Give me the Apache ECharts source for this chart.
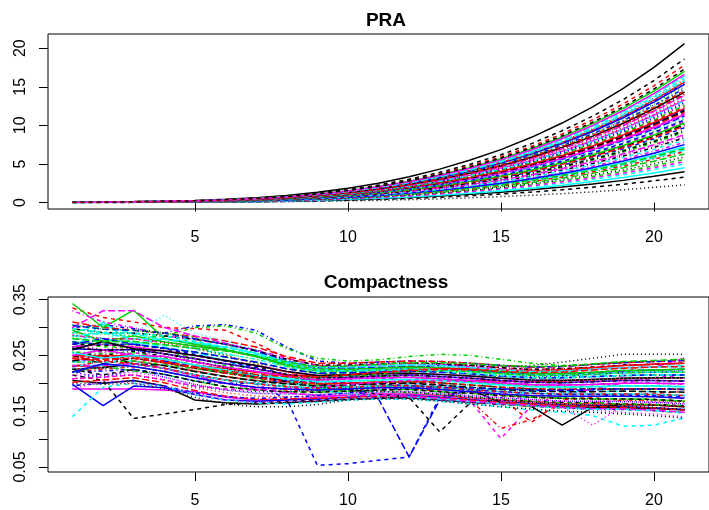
<!DOCTYPE html>
<html>
<head>
<meta charset="utf-8">
<script src="https://cdn.jsdelivr.net/npm/echarts@6/dist/echarts.min.js"></script>
<style>html,body{margin:0;padding:0;background:#fff;}#c{width:709px;height:510px;}</style>
</head>
<body>
<div id="c"></div>
<script>
// ---- categories / ticks ----
const steps = [1,2,3,4,5,6,7,8,9,10,11,12,13,14,15,16,17,18,19,20,21];
const xTicks = [5,10,15,20];
const praTicks = [0,5,10,15,20];
const compTicks = [0.05,0.10,0.15,0.20,0.25,0.30,0.35];
const compLabels = [0.05,0.15,0.25,0.35];
const titles = ['PRA','Compactness'];

// ---- PRA curves ----
const p00=[.06,.08,.12,.19,.27,.41,.62,.91,1.32,1.85,2.51,3.34,4.33,5.50,6.86,8.45,10.30,12.40,14.79,17.51,20.6];
const p01=[.05,.07,.11,.16,.23,.36,.53,.78,1.14,1.60,2.17,2.88,3.74,4.75,5.93,7.30,8.90,10.72,12.78,15.13,17.8];
const p02=[.04,.06,.09,.13,.19,.29,.44,.64,.93,1.31,1.78,2.37,3.07,3.90,4.86,5.99,7.30,8.79,10.48,12.41,14.6];
const p03=[.04,.05,.07,.11,.16,.24,.36,.53,.77,1.09,1.48,1.96,2.54,3.23,4.03,4.96,6.05,7.28,8.69,10.29,12.1];
const p04=[.05,.07,.10,.15,.21,.33,.49,.72,1.05,1.48,2.00,2.66,3.44,4.38,5.46,6.72,8.20,9.87,11.78,13.94,16.4];
const p05=[.04,.05,.08,.12,.17,.27,.40,.59,.85,1.20,1.62,2.15,2.79,3.55,4.43,5.45,6.65,8.01,9.55,11.31,13.3];
const p06=[.06,.07,.11,.17,.24,.37,.56,.82,1.19,1.67,2.27,3.01,3.91,4.97,6.19,7.63,9.30,11.20,13.35,15.81,18.6];
const p07=[.05,.06,.10,.14,.21,.32,.48,.70,1.02,1.43,1.94,2.58,3.34,4.25,5.29,6.52,7.95,9.57,11.42,13.52,15.9];
const p08=[.03,.04,.05,.08,.12,.18,.27,.40,.58,.82,1.11,1.47,1.91,2.43,3.03,3.73,4.55,5.48,6.53,7.74,9.1];
const p09=[.03,.04,.07,.10,.15,.22,.34,.49,.72,1.01,1.37,1.81,2.35,2.99,3.73,4.59,5.60,6.74,8.04,9.52,11.2];
const p10=[.02,.03,.04,.06,.09,.14,.22,.32,.46,.65,.88,1.17,1.51,1.92,2.40,2.95,3.60,4.33,5.17,6.12,7.2];
const p11=[.03,.04,.06,.09,.14,.21,.32,.46,.67,.95,1.28,1.70,2.21,2.80,3.50,4.31,5.25,6.32,7.54,8.93,10.5];
const p12=[.01,.01,.01,.02,.03,.05,.07,.10,.15,.21,.28,.37,.48,.61,.77,.94,1.15,1.38,1.65,1.96,2.3];
const p13=[.04,.06,.08,.13,.18,.28,.42,.62,.90,1.27,1.72,2.28,2.96,3.76,4.70,5.78,7.05,8.49,10.12,11.99,14.1];
const p14=[.02,.03,.04,.06,.08,.13,.19,.28,.40,.57,.77,1.02,1.32,1.68,2.10,2.58,3.15,3.79,4.52,5.36,6.3];
const p15=[.05,.06,.09,.14,.20,.31,.46,.67,.98,1.38,1.87,2.48,3.21,4.09,5.09,6.27,7.65,9.21,10.99,13.01,15.3];
const p16=[.02,.02,.03,.05,.07,.10,.15,.22,.32,.45,.61,.81,1.05,1.34,1.67,2.05,2.50,3.01,3.59,4.25,5.0];
const p17=[.04,.05,.08,.11,.17,.25,.38,.56,.81,1.14,1.55,2.06,2.67,3.39,4.23,5.21,6.35,7.65,9.12,10.80,12.7];
const p18=[.03,.03,.05,.08,.11,.17,.25,.37,.54,.76,1.02,1.36,1.76,2.24,2.80,3.44,4.20,5.06,6.03,7.14,8.4];
const p19=[.04,.05,.07,.11,.15,.23,.35,.51,.75,1.05,1.43,1.90,2.46,3.12,3.90,4.80,5.85,7.04,8.40,9.95,11.7];
const p20=[.05,.07,.10,.15,.22,.34,.51,.75,1.09,1.53,2.07,2.75,3.57,4.54,5.66,6.97,8.50,10.23,12.21,14.45,17.0];
const p21=[.03,.04,.06,.09,.13,.19,.29,.43,.62,.87,1.18,1.57,2.04,2.59,3.23,3.98,4.85,5.84,6.96,8.25,9.7];
const p22=[.04,.05,.08,.12,.18,.27,.41,.60,.88,1.23,1.67,2.22,2.88,3.66,4.56,5.62,6.85,8.25,9.84,11.65,13.7];
const p23=[.02,.03,.05,.07,.10,.16,.23,.34,.50,.70,.95,1.26,1.64,2.08,2.60,3.20,3.90,4.70,5.60,6.63,7.8];
const p24=[.03,.04,.06,.09,.13,.20,.30,.44,.65,.91,1.23,1.64,2.12,2.70,3.36,4.14,5.05,6.08,7.25,8.59,10.1];
const p25=[.05,.06,.09,.14,.20,.31,.47,.69,1.00,1.40,1.90,2.53,3.28,4.17,5.19,6.40,7.80,9.39,11.20,13.26,15.6];
const p26=[.02,.02,.03,.05,.07,.11,.17,.25,.36,.50,.68,.91,1.18,1.50,1.86,2.30,2.80,3.37,4.02,4.76,5.6];
const p27=[.04,.05,.08,.12,.17,.26,.39,.57,.83,1.17,1.59,2.11,2.73,3.47,4.33,5.33,6.50,7.83,9.33,11.05,13.0];
const p28=[.05,.06,.10,.14,.21,.32,.48,.71,1.03,1.45,1.96,2.61,3.38,4.30,5.36,6.60,8.05,9.69,11.56,13.69,16.1];
const p29=[.03,.04,.05,.08,.11,.18,.26,.39,.56,.79,1.07,1.43,1.85,2.35,2.93,3.61,4.40,5.30,6.32,7.48,8.8];
const p30=[.01,.02,.02,.04,.05,.08,.12,.18,.26,.36,.49,.65,.84,1.07,1.33,1.64,2.00,2.41,2.87,3.40,4.0];
const p31=[.04,.05,.07,.11,.16,.25,.37,.55,.79,1.12,1.51,2.01,2.60,3.31,4.13,5.08,6.20,7.46,8.90,10.54,12.4];
const p32=[.03,.04,.06,.10,.14,.22,.32,.48,.69,.97,1.32,1.75,2.27,2.88,3.60,4.43,5.40,6.50,7.75,9.18,10.8];
const p33=[.04,.06,.09,.13,.19,.30,.44,.65,.95,1.33,1.81,2.40,3.11,3.95,4.93,6.07,7.40,8.91,10.63,12.58,14.8];
const p34=[.02,.03,.04,.06,.09,.14,.20,.30,.44,.61,.83,1.10,1.43,1.82,2.26,2.79,3.40,4.09,4.88,5.78,6.8];
const p35=[.03,.05,.07,.10,.15,.23,.34,.50,.73,1.03,1.39,1.85,2.39,3.04,3.80,4.67,5.70,6.86,8.19,9.69,11.4];
const p36=[.01,.01,.02,.03,.04,.07,.10,.15,.21,.30,.40,.53,.69,.88,1.10,1.35,1.65,1.99,2.37,2.81,3.3];
const p37=[.04,.05,.08,.12,.18,.27,.41,.59,.86,1.22,1.65,2.19,2.84,3.60,4.50,5.54,6.75,8.13,9.69,11.48,13.5];
const p38=[.03,.04,.06,.08,.12,.19,.28,.41,.60,.85,1.15,1.52,1.97,2.51,3.13,3.85,4.70,5.66,6.75,7.99,9.4];
const p39=[.04,.05,.07,.11,.16,.24,.36,.53,.77,1.08,1.46,1.94,2.52,3.20,4.00,4.92,6.00,7.22,8.62,10.20,12.0];
const p40=[.01,.02,.03,.04,.06,.09,.14,.20,.29,.41,.55,.73,.95,1.20,1.50,1.85,2.25,2.71,3.23,3.83,4.5];
const p41=[.02,.02,.03,.05,.07,.11,.16,.23,.34,.48,.65,.86,1.11,1.42,1.76,2.17,2.65,3.19,3.81,4.51,5.3];
const p42=[.02,.02,.04,.05,.08,.12,.18,.26,.38,.53,.72,.96,1.24,1.58,1.96,2.42,2.95,3.55,4.24,5.02,5.9];
const p43=[.02,.03,.04,.06,.09,.13,.20,.29,.42,.59,.81,1.07,1.39,1.76,2.20,2.71,3.30,3.97,4.74,5.61,6.6];
const p44=[.02,.03,.04,.06,.09,.14,.21,.31,.45,.63,.85,1.13,1.47,1.87,2.33,2.87,3.50,4.21,5.03,5.95,7.0];
const p45=[.02,.03,.05,.07,.10,.15,.23,.33,.48,.68,.92,1.22,1.58,2.00,2.50,3.08,3.75,4.52,5.39,6.38,7.5];
const p46=[.02,.03,.05,.07,.11,.16,.24,.36,.52,.73,.99,1.31,1.70,2.16,2.70,3.32,4.05,4.88,5.82,6.89,8.1];
const p47=[.03,.03,.05,.08,.11,.17,.26,.38,.55,.77,1.05,1.39,1.81,2.30,2.86,3.53,4.30,5.18,6.17,7.31,8.6];
const p48=[.03,.04,.06,.08,.12,.19,.28,.41,.60,.84,1.13,1.51,1.95,2.48,3.10,3.81,4.65,5.60,6.68,7.91,9.3];
const p49=[.03,.04,.06,.09,.13,.20,.30,.44,.63,.89,1.21,1.60,2.08,2.64,3.30,4.06,4.95,5.96,7.11,8.42,9.9];
const p50=[.03,.04,.06,.09,.13,.21,.31,.45,.66,.93,1.26,1.67,2.16,2.75,3.43,4.22,5.15,6.20,7.40,8.76,10.3];
const p51=[.03,.04,.06,.10,.14,.21,.32,.47,.68,.96,1.31,1.73,2.25,2.86,3.56,4.39,5.35,6.44,7.68,9.10,10.7];
const p52=[.03,.04,.07,.10,.14,.22,.33,.48,.70,.99,1.34,1.78,2.31,2.94,3.66,4.51,5.50,6.62,7.90,9.35,11.0];
const p53=[.03,.05,.07,.10,.15,.23,.35,.51,.74,1.04,1.40,1.86,2.42,3.07,3.83,4.72,5.75,6.92,8.26,9.78,11.5];
const p54=[.04,.05,.07,.11,.15,.24,.36,.52,.76,1.07,1.45,1.93,2.50,3.18,3.96,4.88,5.95,7.16,8.54,10.12,11.9];
const p55=[.04,.05,.07,.11,.16,.24,.37,.54,.78,1.10,1.49,1.98,2.56,3.26,4.06,5.00,6.10,7.34,8.76,10.37,12.2];
const p56=[.04,.05,.08,.11,.16,.25,.38,.55,.81,1.13,1.54,2.04,2.65,3.36,4.20,5.17,6.30,7.59,9.05,10.71,12.6];
const p57=[.04,.05,.08,.12,.17,.26,.39,.57,.83,1.16,1.57,2.09,2.71,3.44,4.30,5.29,6.45,7.77,9.26,10.97,12.9];
const p58=[.04,.05,.08,.12,.17,.26,.40,.58,.84,1.19,1.61,2.14,2.77,3.52,4.40,5.41,6.60,7.95,9.48,11.22,13.2];
const p59=[.04,.06,.08,.13,.18,.28,.42,.61,.89,1.25,1.70,2.25,2.92,3.71,4.63,5.70,6.95,8.37,9.98,11.82,13.9];
const p60=[.04,.06,.09,.13,.19,.29,.43,.63,.92,1.29,1.74,2.32,3.00,3.82,4.76,5.86,7.15,8.61,10.27,12.16,14.3];
const p61=[.04,.06,.09,.13,.19,.29,.44,.64,.93,1.31,1.77,2.35,3.05,3.87,4.83,5.95,7.25,8.73,10.41,12.33,14.5];
const p62=[.05,.06,.09,.14,.20,.30,.45,.66,.96,1.35,1.83,2.43,3.15,4.01,5.00,6.15,7.50,9.03,10.77,12.75,15.0];
const p63=[.05,.06,.09,.14,.20,.31,.46,.68,.99,1.39,1.88,2.49,3.23,4.11,5.13,6.31,7.70,9.27,11.06,13.09,15.4];
const p64=[.05,.06,.09,.14,.21,.32,.47,.70,1.01,1.42,1.93,2.56,3.32,4.22,5.26,6.48,7.90,9.51,11.34,13.43,15.8];
const p65=[.05,.07,.10,.15,.22,.33,.50,.73,1.06,1.49,2.03,2.69,3.49,4.43,5.53,6.81,8.30,9.99,11.92,14.11,16.6];
const p66=[.05,.07,.10,.16,.22,.35,.52,.76,1.11,1.56,2.11,2.80,3.63,4.62,5.76,7.09,8.65,10.41,12.42,14.71,17.3];
const p67=[.04,.06,.08,.13,.18,.28,.42,.62,.90,1.26,1.71,2.27,2.94,3.74,4.66,5.74,7.00,8.43,10.05,11.90,14.0];
const praCurves=[p00,p01,p02,p03,p04,p05,p06,p07,p08,p09,p10,p11,p12,p13,p14,p15,p16,p17,p18,p19,
  p20,p21,p22,p23,p24,p25,p26,p27,p28,p29,p30,p31,p32,p33,p34,p35,p36,p37,p38,p39,
  p40,p41,p42,p43,p44,p45,p46,p47,p48,p49,p50,p51,p52,p53,p54,p55,p56,p57,p58,p59,
  p60,p61,p62,p63,p64,p65,p66,p67];

// ---- Compactness curves ----
const c00=[.205,.200,.205,.195,.170,.165,.163,.165,.168,.171,.173,.174,.170,.166,.163,.160,.158,.157,.156,.155,.152];
const c01=[.335,.318,.310,.300,.298,.295,.272,.245,.232,.230,.233,.236,.235,.232,.228,.225,.226,.229,.232,.234,.236];
const c02=[.283,.270,.280,.269,.263,.253,.243,.230,.221,.222,.224,.226,.224,.221,.217,.214,.214,.216,.219,.220,.220];
const c03=[.300,.305,.298,.290,.303,.305,.295,.265,.240,.236,.238,.240,.239,.236,.232,.229,.230,.234,.237,.239,.241];
const c04=[.290,.305,.288,.279,.270,.265,.254,.239,.229,.229,.231,.233,.232,.228,.224,.221,.222,.225,.228,.229,.232];
const c05=[.190,.190,.190,.188,.185,.175,.170,.171,.175,.179,.181,.181,.178,.174,.170,.167,.164,.163,.162,.161,.158];
const c06=[.215,.205,.137,.145,.153,.162,.165,.168,.170,.172,.174,.174,.170,.166,.162,.159,.156,.154,.153,.151,.147];
const c07=[.270,.260,.268,.258,.250,.241,.232,.221,.214,.215,.217,.218,.216,.213,.209,.206,.205,.207,.209,.210,.210];
const c08=[.260,.275,.280,.285,.300,.303,.290,.262,.245,.240,.242,.248,.252,.250,.243,.236,.232,.234,.238,.240,.240];
const c09=[.240,.245,.250,.240,.230,.220,.212,.205,.200,.190,.172,.068,.170,.190,.190,.188,.187,.188,.190,.190,.189];
const c10=[.260,.310,.270,.280,.272,.260,.250,.235,.225,.225,.228,.230,.228,.224,.220,.217,.217,.220,.222,.224,.225];
const c11=[.250,.245,.255,.248,.238,.229,.221,.212,.206,.208,.210,.205,.195,.168,.101,.160,.180,.190,.200,.210,.215];
const c12=[.230,.240,.245,.238,.228,.220,.210,.205,.205,.210,.215,.220,.225,.228,.230,.232,.238,.245,.252,.252,.252];
const c13=[.220,.225,.230,.222,.210,.200,.192,.188,.186,.188,.190,.190,.186,.170,.119,.135,.163,.165,.170,.170,.168];
const c14=[.220,.230,.222,.216,.204,.194,.188,.185,.184,.186,.188,.189,.185,.182,.178,.175,.173,.172,.172,.171,.168];
const c15=[.198,.160,.195,.192,.180,.170,.168,.170,.172,.175,.178,.178,.175,.171,.167,.164,.161,.160,.158,.156,.153];
const c16=[.140,.193,.200,.195,.180,.170,.165,.163,.166,.170,.172,.172,.168,.163,.158,.152,.148,.142,.123,.125,.138];
const c17=[.240,.238,.245,.237,.227,.218,.210,.203,.199,.200,.202,.203,.198,.190,.180,.168,.158,.125,.160,.165,.170];
const c18=[.255,.250,.258,.248,.238,.229,.221,.212,.206,.208,.210,.211,.208,.205,.201,.198,.197,.198,.200,.200,.199];
const c19=[.310,.300,.295,.290,.284,.276,.265,.248,.236,.236,.238,.240,.239,.236,.232,.229,.230,.234,.237,.239,.241];
const c20=[.343,.300,.331,.280,.270,.260,.248,.232,.222,.222,.224,.226,.224,.221,.217,.214,.214,.216,.219,.220,.220];
const c21=[.230,.232,.235,.227,.215,.206,.199,.172,.053,.056,.062,.068,.175,.189,.185,.182,.181,.181,.181,.180,.178];
const c22=[.270,.280,.290,.322,.290,.275,.260,.240,.230,.229,.231,.233,.232,.228,.224,.221,.222,.225,.228,.229,.230];
const c23=[.330,.310,.300,.285,.278,.270,.260,.245,.232,.232,.234,.236,.234,.230,.226,.223,.224,.228,.232,.234,.236];
const c24=[.250,.235,.245,.237,.227,.218,.210,.203,.199,.200,.202,.203,.201,.197,.193,.190,.189,.190,.190,.190,.189];
const c25=[.232,.228,.240,.232,.222,.212,.205,.200,.199,.200,.202,.203,.205,.205,.204,.203,.204,.206,.208,.209,.210];
const c26=[.275,.265,.265,.258,.245,.232,.220,.205,.196,.193,.195,.196,.190,.185,.180,.176,.174,.173,.172,.171,.168];
const c27=[.208,.215,.215,.206,.195,.188,.185,.185,.188,.195,.200,.205,.210,.212,.212,.212,.213,.216,.219,.220,.222];
const c28=[.250,.260,.250,.243,.233,.224,.215,.208,.203,.204,.206,.207,.205,.201,.197,.194,.193,.194,.195,.195,.194];
const c29=[.300,.330,.330,.300,.285,.272,.258,.240,.229,.229,.231,.233,.232,.228,.224,.221,.222,.225,.228,.229,.245];
const c30=[.225,.228,.235,.227,.215,.206,.199,.194,.191,.193,.195,.196,.193,.189,.165,.158,.125,.157,.162,.161,.158];
const c31=[.245,.250,.248,.240,.228,.220,.212,.205,.200,.200,.200,.200,.198,.190,.175,.130,.170,.175,.180,.182,.185];
const c32=[.290,.288,.285,.275,.265,.250,.235,.220,.210,.205,.203,.203,.201,.197,.193,.190,.189,.190,.190,.190,.189];
const c33=[.220,.222,.225,.216,.204,.200,.200,.205,.210,.215,.222,.228,.232,.233,.232,.229,.230,.234,.237,.239,.241];
const c34=[.280,.275,.275,.265,.255,.240,.225,.205,.190,.180,.178,.176,.172,.167,.163,.159,.156,.154,.153,.151,.147];
const c35=[.265,.270,.265,.258,.250,.241,.232,.221,.214,.215,.217,.218,.216,.213,.209,.206,.205,.207,.209,.210,.210];
const c36=[.270,.268,.270,.262,.250,.240,.230,.215,.200,.190,.180,.175,.113,.165,.170,.168,.166,.165,.163,.162,.160];
const c37=[.208,.211,.215,.206,.192,.183,.177,.176,.176,.179,.181,.181,.178,.174,.170,.167,.164,.163,.162,.161,.158];
const c38=[.256,.254,.255,.245,.232,.220,.208,.196,.188,.186,.185,.183,.180,.176,.172,.168,.165,.164,.163,.162,.160];
const c39=[.304,.297,.295,.290,.280,.270,.258,.240,.228,.227,.228,.230,.228,.224,.220,.217,.217,.219,.222,.224,.225];
const c40=[.232,.232,.235,.227,.215,.206,.199,.194,.191,.193,.195,.196,.193,.189,.185,.182,.181,.181,.181,.180,.178];
const c41=[.286,.280,.280,.274,.267,.259,.248,.235,.225,.225,.227,.229,.228,.225,.221,.218,.218,.220,.223,.224,.225];
const c42=[.200,.198,.200,.190,.175,.163,.158,.158,.162,.170,.172,.172,.168,.163,.158,.154,.150,.148,.145,.142,.138];
const c43=[.226,.227,.230,.221,.210,.200,.193,.190,.188,.190,.192,.192,.189,.185,.181,.178,.177,.177,.177,.176,.173];
const c44=[.274,.270,.270,.263,.256,.247,.238,.226,.218,.219,.220,.222,.220,.217,.213,.210,.210,.212,.214,.215,.215];
const c45=[.262,.260,.260,.253,.244,.235,.226,.216,.210,.211,.213,.215,.212,.209,.205,.202,.201,.203,.205,.205,.204];
const c46=[.238,.238,.240,.232,.221,.212,.204,.199,.195,.197,.199,.200,.197,.193,.189,.186,.185,.185,.186,.185,.184];
const c47=[.214,.216,.220,.211,.198,.188,.182,.181,.180,.182,.184,.185,.182,.178,.174,.171,.168,.168,.167,.166,.163];
const c48=[.298,.291,.290,.285,.279,.270,.259,.243,.233,.233,.235,.237,.235,.232,.228,.225,.226,.229,.233,.234,.236];
const c49=[.202,.206,.210,.201,.187,.177,.171,.172,.173,.175,.177,.177,.174,.170,.166,.163,.160,.159,.157,.156,.152];
const c50=[.295,.275,.285,.274,.267,.259,.248,.235,.225,.225,.227,.229,.228,.225,.221,.218,.218,.220,.223,.224,.225];
const c51=[.274,.270,.270,.263,.252,.240,.228,.214,.204,.200,.198,.196,.193,.189,.185,.182,.180,.180,.179,.178,.176];
const c52=[.226,.227,.230,.221,.212,.205,.200,.198,.200,.205,.210,.214,.215,.214,.211,.208,.208,.210,.213,.214,.215];
const c53=[.270,.255,.265,.253,.244,.235,.226,.216,.210,.211,.213,.215,.212,.209,.205,.202,.201,.203,.205,.205,.204];
const c54=[.240,.250,.235,.232,.221,.212,.204,.199,.195,.197,.199,.200,.197,.193,.189,.186,.185,.185,.186,.185,.184];
const c55=[.250,.249,.250,.243,.233,.226,.220,.215,.213,.216,.220,.224,.226,.226,.224,.222,.224,.228,.232,.234,.236];
const c56=[.298,.291,.290,.285,.275,.262,.248,.230,.218,.214,.213,.212,.208,.203,.199,.195,.194,.194,.195,.195,.194];
const c57=[.220,.210,.225,.211,.198,.188,.182,.181,.180,.182,.184,.185,.182,.178,.174,.171,.168,.168,.167,.166,.163];
const c58=[.285,.280,.272,.269,.261,.253,.243,.230,.221,.222,.224,.226,.224,.221,.217,.214,.214,.216,.219,.220,.220];
const c59=[.232,.232,.235,.227,.213,.200,.190,.183,.178,.178,.178,.177,.173,.168,.164,.160,.157,.155,.154,.152,.148];
const c60=[.260,.275,.262,.258,.250,.241,.232,.221,.214,.215,.217,.218,.216,.213,.209,.206,.205,.207,.209,.210,.210];
const c61=[.245,.240,.250,.237,.227,.218,.210,.203,.199,.200,.202,.203,.201,.197,.193,.190,.189,.190,.190,.190,.189];
const c62=[.305,.297,.295,.290,.282,.270,.255,.236,.224,.222,.222,.223,.220,.216,.211,.207,.206,.207,.209,.210,.210];
const c63=[.196,.200,.205,.195,.183,.176,.173,.175,.178,.183,.188,.192,.193,.192,.190,.188,.188,.190,.190,.190,.189];
const c64=[.285,.290,.280,.279,.273,.265,.254,.239,.229,.229,.231,.233,.232,.228,.224,.221,.222,.225,.228,.229,.230];
const c65=[.250,.260,.250,.248,.238,.229,.221,.212,.206,.208,.210,.211,.208,.205,.201,.198,.197,.198,.200,.200,.199];
const c66=[.225,.215,.225,.216,.204,.194,.188,.185,.184,.186,.188,.189,.185,.182,.178,.175,.173,.172,.172,.171,.168];
const c67=[.286,.280,.280,.272,.262,.250,.236,.220,.208,.202,.198,.195,.190,.184,.179,.175,.172,.171,.170,.168,.165];
const c68=[.238,.238,.240,.234,.226,.220,.214,.210,.210,.213,.217,.221,.222,.221,.218,.216,.216,.219,.222,.223,.225];
const c69=[.270,.280,.270,.263,.256,.247,.238,.226,.218,.219,.220,.222,.220,.217,.213,.210,.210,.212,.214,.215,.215];
const c70=[.255,.245,.250,.243,.233,.224,.215,.208,.203,.204,.206,.207,.205,.201,.197,.194,.193,.194,.195,.195,.194];
const c71=[.208,.211,.215,.206,.195,.190,.188,.190,.193,.198,.202,.205,.205,.203,.200,.197,.197,.198,.200,.200,.199];
const c72=[.262,.260,.260,.253,.240,.228,.215,.203,.193,.188,.186,.184,.180,.175,.170,.166,.163,.161,.159,.157,.153];
const c73=[.230,.240,.235,.227,.215,.206,.199,.194,.191,.193,.195,.196,.193,.189,.185,.182,.181,.181,.181,.180,.178];
const c74=[.280,.275,.275,.269,.263,.258,.250,.238,.230,.231,.234,.237,.237,.235,.232,.230,.231,.235,.239,.241,.243];
const c75=[.220,.235,.230,.221,.210,.200,.193,.190,.188,.190,.192,.192,.189,.185,.181,.178,.177,.177,.177,.176,.173];
const c76=[.298,.291,.290,.285,.276,.265,.252,.236,.224,.223,.223,.224,.222,.218,.214,.210,.210,.212,.214,.215,.215];
const c77=[.190,.205,.200,.195,.181,.171,.166,.167,.169,.172,.174,.174,.170,.166,.162,.159,.156,.152,.148,.145,.140];
const c78=[.265,.258,.262,.253,.244,.235,.226,.216,.210,.211,.213,.215,.212,.209,.205,.202,.201,.203,.205,.205,.204];
const c79=[.244,.243,.245,.237,.229,.222,.216,.212,.211,.215,.219,.223,.225,.224,.221,.219,.220,.224,.227,.229,.230];
const compCurves=[c00,c01,c02,c03,c04,c05,c06,c07,c08,c09,c10,c11,c12,c13,c14,c15,c16,c17,c18,c19,
  c20,c21,c22,c23,c24,c25,c26,c27,c28,c29,c30,c31,c32,c33,c34,c35,c36,c37,c38,c39,
  c40,c41,c42,c43,c44,c45,c46,c47,c48,c49,c50,c51,c52,c53,c54,c55,c56,c57,c58,c59,
  c60,c61,c62,c63,c64,c65,c66,c67,c68,c69,c70,c71,c72,c73,c74,c75,c76,c77,c78,c79];

// ---- styles (R matplot defaults) ----
const palette = ['#000000','#FF0000','#00CD00','#0000FF','#00FFFF','#FF00FF'];
const dashes = ['solid',[4,4],[1,3],[1,3,4,3],[7,3]];
const FONT = '"Liberation Sans", Arial, Helvetica, sans-serif';

function buildSeries(curves, idx) {
  return curves.map((vals, i) => ({
    type: 'line',
    xAxisIndex: idx,
    yAxisIndex: idx,
    data: steps.map((x, j) => [x, vals[j]]),
    symbol: 'none',
    showSymbol: false,
    silent: true,
    animation: false,
    lineStyle: { color: palette[i % 6], width: 1.5, type: dashes[i % 5], cap: 'butt' }
  }));
}

function xAxisFor(idx) {
  return {
    type: 'value', gridIndex: idx, min: 0.2, max: 21.8,
    axisLine: { show: false },
    splitLine: { show: false },
    axisTick: { show: true, customValues: xTicks, length: 9, lineStyle: { color: '#000', width: 1 } },
    axisLabel: { customValues: xTicks, fontSize: 16, color: '#000', fontFamily: FONT, margin: 21 }
  };
}

const chart = echarts.init(document.getElementById('c'), null, { renderer: 'canvas' });
chart.setOption({
  animation: false,
  backgroundColor: '#fff',
  title: [
    { text: titles[0], left: 381, top: 6, textAlign: 'center',
      textStyle: { fontSize: 19, fontWeight: 'bold', color: '#000', fontFamily: FONT } },
    { text: titles[1], left: 381, top: 268, textAlign: 'center',
      textStyle: { fontSize: 19, fontWeight: 'bold', color: '#000', fontFamily: FONT } }
  ],
  grid: [
    { left: 48, top: 34, width: 666, height: 175, show: true, borderColor: '#000', borderWidth: 1, backgroundColor: 'transparent' },
    { left: 48, top: 297, width: 666, height: 175, show: true, borderColor: '#000', borderWidth: 1, backgroundColor: 'transparent' }
  ],
  xAxis: [xAxisFor(0), xAxisFor(1)],
  yAxis: [
    { type: 'value', gridIndex: 0, min: -0.84, max: 21.84,
      axisLine: { show: false }, splitLine: { show: false },
      axisTick: { show: true, customValues: praTicks, length: 9, lineStyle: { color: '#000' } },
      axisLabel: { customValues: praTicks, rotate: 90, fontSize: 16, color: '#000', fontFamily: FONT, margin: 19 } },
    { type: 'value', gridIndex: 1, min: 0.041, max: 0.3547,
      axisLine: { show: false }, splitLine: { show: false },
      axisTick: { show: true, customValues: compTicks, length: 9, lineStyle: { color: '#000' } },
      axisLabel: { customValues: compLabels, rotate: 90, fontSize: 16, color: '#000', fontFamily: FONT, margin: 19,
        formatter: v => Number(v).toFixed(2) } }
  ],
  series: buildSeries(praCurves, 0).concat(buildSeries(compCurves, 1))
});
</script>
</body>
</html>
